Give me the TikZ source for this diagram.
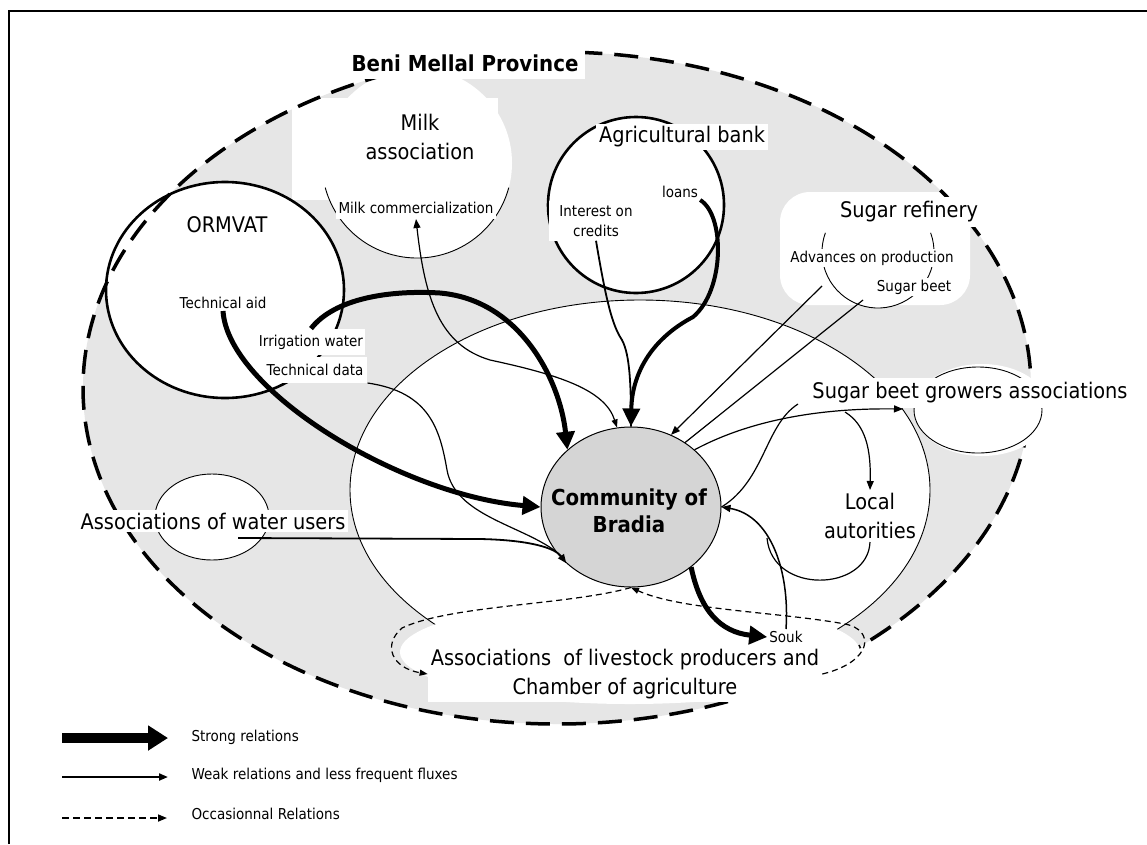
\documentclass[tikz,border=0pt]{standalone}
\usepackage{fontspec}
\setmainfont{DejaVu Sans}[FakeStretch=0.9]
\usetikzlibrary{arrows.meta,shapes.geometric}
\definecolor{provgray}{HTML}{E6E6E6}
\definecolor{commgray}{HTML}{D5D5D5}
\newcommand{\fbig}{\fontsize{21.5}{29}\selectfont}
\newcommand{\fsml}{\fontsize{15}{20}\selectfont}
\newcommand{\fleg}{\fontsize{15}{18}\selectfont}
\newcommand{\fttl}{\fontsize{22}{27}\selectfont\bfseries}
\begin{document}
\begin{tikzpicture}[x=1pt,y=-1pt,
  lbl/.style={font=\fbig, align=center, inner sep=3pt},
  sml/.style={font=\fsml, align=center, inner sep=2pt},
  wb/.style={fill=white},
  thinln/.style={line width=0.9pt},
  boldring/.style={line width=2.6pt},
  strong/.style={line width=5pt, -{Triangle[length=18pt,width=18pt]}},
  medln/.style={line width=1.8pt},
  weakln/.style={line width=1.2pt},
  wtip/.style={-{Triangle[length=9pt,width=7pt]}},
  occ/.style={line width=1.2pt, dash pattern=on 6pt off 4pt},
  otip/.style={-{Triangle[length=8pt,width=6pt]}}
]
\useasboundingbox (0,0) rectangle (1147,844);
\fill[white] (0,0) rectangle (1147,844);
\draw[line width=2.5pt] (9,844) -- (9,11) -- (1147,11);
% province shading
\fill[provgray] (557,388) ellipse [x radius=474, y radius=336];
% white zones
\fill[white] (640,490) ellipse [x radius=290, y radius=190];
\fill[white] (225,290) ellipse [x radius=119, y radius=108];
\fill[white] (292,98) rectangle (498,200);
\fill[white] (417,163) circle [radius=95];
\fill[white] (636,205) circle [radius=88];
\fill[white, rounded corners=30pt] (780,192) rectangle (970,305);
\fill[white] (878,252) circle [radius=56];
\fill[white] (212,517) ellipse [x radius=57, y radius=43];
% province border
\draw[line width=3.5pt, dash pattern=on 24pt off 12pt] (557,388) ellipse [x radius=474, y radius=336];
% growers zone hides the border
\fill[white] (982,410) ellipse [x radius=68, y radius=46];
% inner area
\draw[thinln] (640,490) ellipse [x radius=290, y radius=190];
\fill[white] (630,652) ellipse [x radius=230, y radius=52];
% rings
\draw[boldring] (225,290) ellipse [x radius=119, y radius=108];
\draw[boldring] (636,205) circle [radius=88];
\draw[thinln] (417,163) ++(15:95) arc [start angle=15, end angle=165, radius=95];
\draw[thinln] (878,252) ++(-20:56) arc [start angle=-20, end angle=200, radius=56];
\draw[thinln] (212,517) ellipse [x radius=57, y radius=43];
\draw[thinln] (978,410) ellipse [x radius=64, y radius=43];
% community
\node[ellipse, draw, line width=1pt, fill=commgray, minimum width=180, minimum height=160, inner sep=0pt] (comm) at (631,507) {};
\node[font=\fttl, align=center] (commtxt) at (629,511) {Community of\\Bradia};
% labels
\node[lbl, wb, font=\fttl, inner sep=7pt] (beni) at (465,63) {Beni Mellal Province};
\node[lbl, wb, inner sep=4pt] (milk) at (420,137) {Milk\\association};
\node[sml, wb, inner xsep=3pt, inner ysep=5pt] (milkcom) at (416,208) {Milk commercialization};
\node[lbl] (ormvat) at (227,225) {ORMVAT};
\node[sml] (techaid) at (223,303) {Technical aid};
\node[sml, wb, inner ysep=6pt] (irrig) at (311,342) {Irrigation water};
\node[sml, wb, inner ysep=7pt, inner xsep=4pt] (techdata) at (315,370) {Technical data};
\node[lbl, wb] (bank) at (682,137) {Agricultural bank};
\node[sml, wb, inner xsep=10pt, inner ysep=4pt] (interest) at (596,221) {Interest on\\credits};
\node[sml] (loans) at (680,192) {loans};
\node[lbl, wb, inner sep=5pt] (refinery) at (909,212) {Sugar refinery};
\node[sml, wb] (advances) at (872,258) {Advances on production};
\node[sml, wb] (sugarbeet) at (914,287) {Sugar beet};
\node[lbl, wb, inner sep=5pt] (growers) at (970,393) {Sugar beet growers associations};
\node[lbl] (local) at (870,516) {Local\\autorities};
\node[lbl, wb] (water) at (213,521) {Associations of water users};
\node[sml] (souk) at (786,637) {Souk};
\node[lbl, wb] (livestock) at (625,674) {Associations\ \ of livestock producers and\\Chamber of agriculture};
% helper coordinates
\coordinate (wstart) at (238,538);
\coordinate (ref1) at (822,286);
\coordinate (ref2) at (863,300);
\coordinate (grin) at (903,409);
\coordinate (grout) at (798,404);
\coordinate (dbranch) at (845,412);
\coordinate (lmerge) at (767,538);
% strong relations
\draw[strong] (techaid.south) .. controls (228,390) and (400,495) .. (comm.west);
\draw[strong] (irrig.north) .. controls (335,298) and (390,290) .. (440,293) .. controls (520,300) and (560,380) .. (comm.138);
\draw[line width=4pt, -{Triangle[length=18pt,width=17pt]}] (loans.south east) .. controls (725,215) and (725,290) .. (693,317) .. controls (655,337) and (632,370) .. (comm.north);
\draw[strong] (comm.315) .. controls (700,610) and (720,632) .. (souk.west);
% weak relations
\draw[medln] (interest.south) .. controls (606,300) and (612,325) .. (622,340) .. controls (630,355) and (631,385) .. (comm.north);
\draw[weakln, {Triangle[length=9pt,width=7pt]}-{Triangle[length=8pt,width=6pt]}] (milkcom.south) .. controls (425,300) and (440,345) .. (490,360) .. controls (560,375) and (605,390) .. (comm.100);
\draw[weakln] (techdata.south east) .. controls (430,392) and (440,430) .. (447,470) .. controls (455,515) and (520,525) .. (comm.210);
\draw[medln, wtip] (wstart) -- (480,539) .. controls (530,540) and (555,548) .. (comm.221);
\draw[weakln, wtip] (ref1) -- (comm.61);
\draw[weakln] (ref2) -- (comm.50);
\draw[weakln, wtip] (comm.42) .. controls (750,420) and (820,408) .. (grin);
\draw[weakln, wtip] (dbranch) .. controls (866,425) and (871,450) .. (local.north);
\draw[weakln] (grout) .. controls (765,425) and (765,480) .. (comm.east);
\draw[line width=1.5pt, wtip] (souk.north) .. controls (790,570) and (770,515) .. (comm.east);
\draw[weakln] (local.south) .. controls (868,592) and (772,595) .. (lmerge);
% occasional relations
\draw[occ, otip] (livestock.east) .. controls (872,662) and (876,630) .. (845,624) .. controls (780,612) and (680,610) .. (comm.south);
\draw[occ, otip] (comm.south) .. controls (570,605) and (450,605) .. (402,628) .. controls (382,645) and (392,668) .. (livestock.west);
% legend
\node[font=\fleg, anchor=west] (lg1) at (188,737) {Strong relations};
\node[font=\fleg, anchor=west] (lg2) at (188,775) {Weak relations and less frequent fluxes};
\node[font=\fleg, anchor=west] (lg3) at (188,814) {Occasionnal Relations};
\coordinate (ls1) at (62,738);
\coordinate (ls2) at (62,777);
\coordinate (ls3) at (62,818);
\coordinate (le1) at (168,738);
\coordinate (le2) at (168,777);
\coordinate (le3) at (167,818);
\draw[line width=10pt, -{Triangle[length=20pt,width=24pt]}] (ls1) -- (le1);
\draw[line width=2pt, -{Triangle[length=9pt,width=7pt]}] (ls2) -- (le2);
\draw[line width=1.6pt, dash pattern=on 7pt off 4pt, -{Triangle[length=9pt,width=7pt]}] (ls3) -- (le3);
\end{tikzpicture}
\end{document}
